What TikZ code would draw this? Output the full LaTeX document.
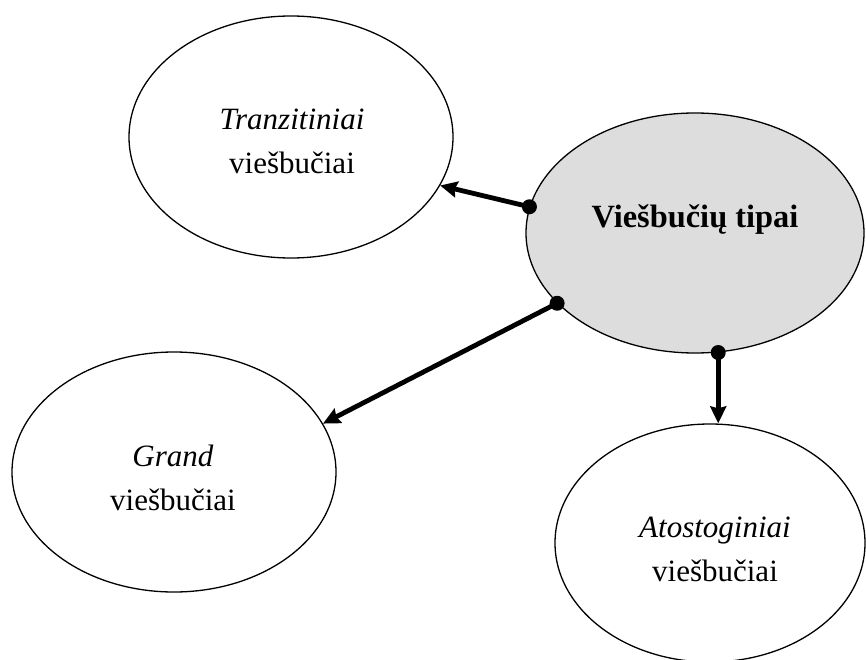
\documentclass[tikz,border=0pt]{standalone}
\usepackage{fontspec}
\setmainfont{Liberation Serif}
\usetikzlibrary{arrows.meta,shapes.geometric}

\definecolor{hubgray}{HTML}{DDDDDD}
\tikzset{
  hotel/.style={ellipse, draw, line width=1.3pt, fill=white, inner sep=0pt},
  hub/.style={hotel, fill=hubgray},
  lbl/.style={align=center, inner sep=0pt, font=\fontsize{31}{44}\selectfont},
  hublbl/.style={inner sep=0pt, font=\fontsize{32.4}{38}\selectfont\bfseries},
  link/.style={line width=4.8pt, -{Stealth[length=17pt,width=16pt,inset=2pt]}},
  dot/.style={fill=black}
}

\begin{document}
\begin{tikzpicture}[x=1pt,y=-1pt]
  \useasboundingbox (0,0) rectangle (866,660);

  % ellipses
  \node[hub,   minimum width=338pt, minimum height=240pt] (C) at (695,233) {};
  \node[hotel, minimum width=324pt, minimum height=242pt] (T) at (291,137) {};
  \node[hotel, minimum width=324pt, minimum height=240pt] (G) at (174,472) {};
  \node[hotel, minimum width=310pt, minimum height=238pt] (A) at (710,543) {};

  % texts
  \node[hublbl] (Ct) at (695,220) {Viešbučių tipai};
  \node[lbl] (Tt) at (292,141) {\textit{Tranzitiniai}\\viešbučiai};
  \node[lbl] (Gt) at (173,478) {\textit{Grand}\\viešbučiai};
  \node[lbl] (At) at (715,549) {\textit{Atostoginiai}\\viešbučiai};

  % connectors with a dot at the hub
  \fill[dot] (C.171.9) circle (7.5pt);
  \draw[link] (C.171.9) -- (T.-18.8);

  \fill[dot] (C.207.05) circle (7.5pt);
  \draw[link] (C.207.05) -- (G.18.3);

  \fill[dot] (C.-79.6) circle (7.5pt);
  \draw[link] (C.-79.6) -- (C.-79.6 |- A.north);
\end{tikzpicture}
\end{document}
